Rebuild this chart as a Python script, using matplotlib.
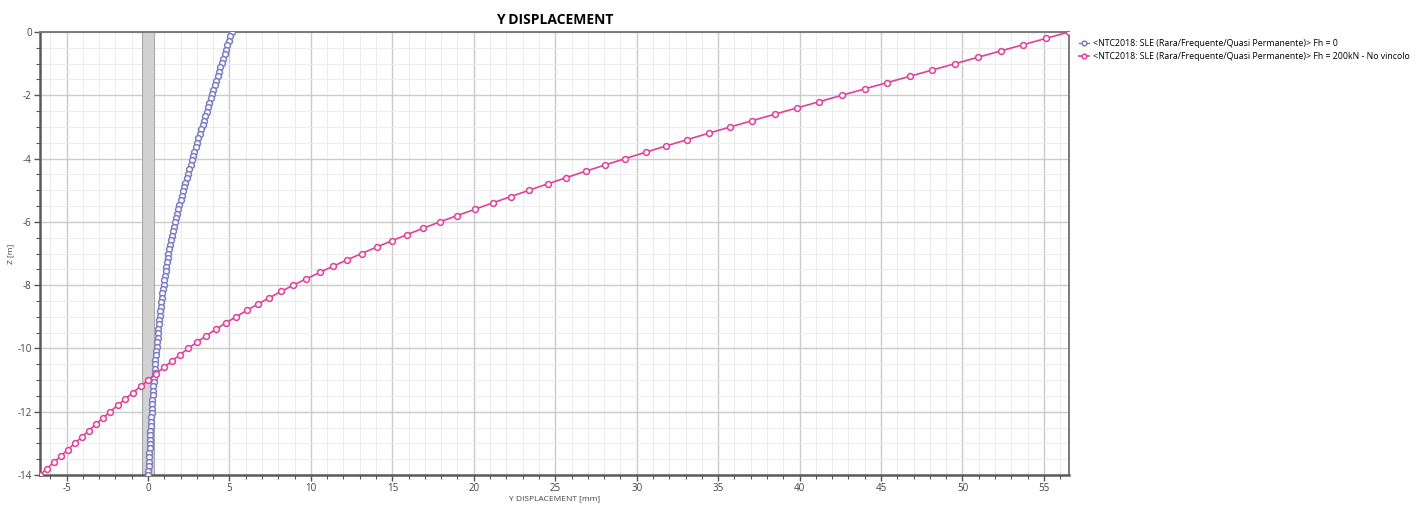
import matplotlib
matplotlib.use("Agg")
import matplotlib.pyplot as plt
from matplotlib.ticker import MultipleLocator

plt.rcParams['axes.unicode_minus'] = False
plt.rcParams['font.family'] = ['Open Sans', 'DejaVu Sans']

# depths of the nodes [m]
z_fh0 = [0.00, -0.14, -0.28, -0.42, -0.56, -0.70, -0.84, -0.98, -1.12, -1.26,
         -1.40, -1.54, -1.68, -1.82, -1.96, -2.10, -2.24, -2.38, -2.52, -2.66,
         -2.80, -2.94, -3.08, -3.22, -3.36, -3.50, -3.64, -3.78, -3.92, -4.06,
         -4.20, -4.34, -4.48, -4.62, -4.76, -4.90, -5.04, -5.18, -5.32, -5.46,
         -5.60, -5.74, -5.88, -6.02, -6.16, -6.30, -6.44, -6.58, -6.72, -6.86,
         -7.00, -7.14, -7.28, -7.42, -7.56, -7.70, -7.84, -7.98, -8.12, -8.26,
         -8.40, -8.54, -8.68, -8.82, -8.96, -9.10, -9.24, -9.38, -9.52, -9.66,
         -9.80, -9.94, -10.08, -10.22, -10.36, -10.50, -10.64, -10.78, -10.92, -11.06,
         -11.20, -11.34, -11.48, -11.62, -11.76, -11.90, -12.04, -12.18, -12.32, -12.46,
         -12.60, -12.74, -12.88, -13.02, -13.16, -13.30, -13.44, -13.58, -13.72, -13.86,
         -14.00]
# Y displacement, Fh = 0 [mm]
y_fh0 = [5.14, 5.05, 4.97, 4.88, 4.79, 4.71, 4.62, 4.53, 4.45, 4.36,
         4.28, 4.19, 4.11, 4.02, 3.93, 3.85, 3.77, 3.69, 3.60, 3.52,
         3.44, 3.36, 3.27, 3.19, 3.10, 3.02, 2.94, 2.85, 2.77, 2.69,
         2.61, 2.53, 2.45, 2.37, 2.29, 2.22, 2.14, 2.07, 2.00, 1.93,
         1.85, 1.78, 1.71, 1.64, 1.59, 1.53, 1.47, 1.42, 1.36, 1.31,
         1.25, 1.21, 1.17, 1.12, 1.08, 1.04, 1.00, 0.96, 0.92, 0.89,
         0.85, 0.82, 0.79, 0.75, 0.72, 0.69, 0.66, 0.64, 0.61, 0.59,
         0.56, 0.53, 0.51, 0.49, 0.46, 0.44, 0.42, 0.40, 0.37, 0.35,
         0.33, 0.31, 0.29, 0.27, 0.25, 0.23, 0.22, 0.20, 0.19, 0.17,
         0.15, 0.14, 0.12, 0.11, 0.10, 0.08, 0.07, 0.06, 0.05, 0.03,
         0.02]

z_fh200 = [0.0, -0.2, -0.4, -0.6, -0.8, -1.0, -1.2, -1.4, -1.6, -1.8,
           -2.0, -2.2, -2.4, -2.6, -2.8, -3.0, -3.2, -3.4, -3.6, -3.8,
           -4.0, -4.2, -4.4, -4.6, -4.8, -5.0, -5.2, -5.4, -5.6, -5.8,
           -6.0, -6.2, -6.4, -6.6, -6.8, -7.0, -7.2, -7.4, -7.6, -7.8,
           -8.0, -8.2, -8.4, -8.6, -8.8, -9.0, -9.2, -9.4, -9.6, -9.8,
           -10.0, -10.2, -10.4, -10.6, -10.8, -11.0, -11.2, -11.4, -11.6, -11.8,
           -12.0, -12.2, -12.4, -12.6, -12.8, -13.0, -13.2, -13.4, -13.6, -13.8,
           -14.0]
# Y displacement, Fh = 200kN - no vincolo [mm]
y_fh200 = [56.54, 55.14, 53.74, 52.34, 50.94, 49.55, 48.16, 46.77, 45.38, 43.99,
           42.60, 41.22, 39.84, 38.47, 37.10, 35.75, 34.42, 33.11, 31.82, 30.55,
           29.30, 28.07, 26.87, 25.69, 24.53, 23.40, 22.28, 21.17, 20.08, 18.99,
           17.92, 16.90, 15.92, 14.96, 14.03, 13.12, 12.23, 11.37, 10.54, 9.72,
           8.92, 8.17, 7.44, 6.74, 6.06, 5.40, 4.76, 4.15, 3.57, 3.01,
           2.47, 1.96, 1.46, 0.97, 0.49, 0.02, -0.46, -0.93, -1.40, -1.87,
           -2.33, -2.77, -3.21, -3.64, -4.07, -4.50, -4.92, -5.35, -5.78, -6.21,
           -6.63]

# pile section band [mm]
band = [-0.35, 0.35]

labels = ["<NTC2018: SLE (Rara/Frequente/Quasi Permanente)> Fh = 0",
          "<NTC2018: SLE (Rara/Frequente/Quasi Permanente)> Fh = 200kN - No vincolo"]

fig = plt.figure(figsize=(14.21, 5.09), dpi=100)
ax = fig.add_axes([40/1421, 1 - 475/509, (1069 - 40)/1421, (475 - 32)/509])

ax.axvspan(band[0], band[1], facecolor='#d2d2d2', edgecolor='#a8a8a8', lw=0.8, zorder=1)

ax.plot(y_fh0, z_fh0, color='#7c7cc4', lw=1.0, marker='o', ms=4.2, mfc='white',
        mec='#7c7cc4', mew=1.1, label=labels[0], zorder=3)
ax.plot(y_fh200, z_fh200, color='#e0409a', lw=1.2, marker='o', ms=4.2, mfc='white',
        mec='#e0409a', mew=1.1, label=labels[1], zorder=3)

ax.set_xlim(-6.63, 56.54)
ax.set_ylim(-14, 0)
ax.xaxis.set_major_locator(MultipleLocator(5))
ax.xaxis.set_minor_locator(MultipleLocator(1))
ax.yaxis.set_major_locator(MultipleLocator(2))
ax.yaxis.set_minor_locator(MultipleLocator(0.5))

ax.grid(which='major', color='#cbcbcb', lw=1.0, zorder=0)
ax.grid(which='minor', color='#ececec', lw=0.7, zorder=0)
ax.set_axisbelow(True)

ax.tick_params(which='major', length=4, width=1, color='#555555', labelsize=7,
               labelcolor='#444444', pad=2)
ax.tick_params(which='minor', length=3, width=0.8, color='#555555')

for side in ['left', 'bottom']:
    ax.spines[side].set_color('#5a5a5a')
    ax.spines[side].set_linewidth(1.8)
for side in ['top', 'right']:
    ax.spines[side].set_color('#7a7a7a')
    ax.spines[side].set_linewidth(1.4)

ax.set_title("Y DISPLACEMENT", fontsize=10, fontweight='bold', pad=6)
ax.set_xlabel("Y DISPLACEMENT [mm]", fontsize=6, color='#444444', labelpad=1)
ax.set_ylabel("Z [m]", fontsize=6, color='#444444', labelpad=2)

fig.legend(loc='upper left', bbox_to_anchor=(1075/1421, 1 - 36/509), frameon=False,
           fontsize=6.3, handlelength=1.2, handletextpad=0.5, labelspacing=0.45,
           markerscale=0.8, borderaxespad=0)

fig.savefig("out.png", dpi=100)
